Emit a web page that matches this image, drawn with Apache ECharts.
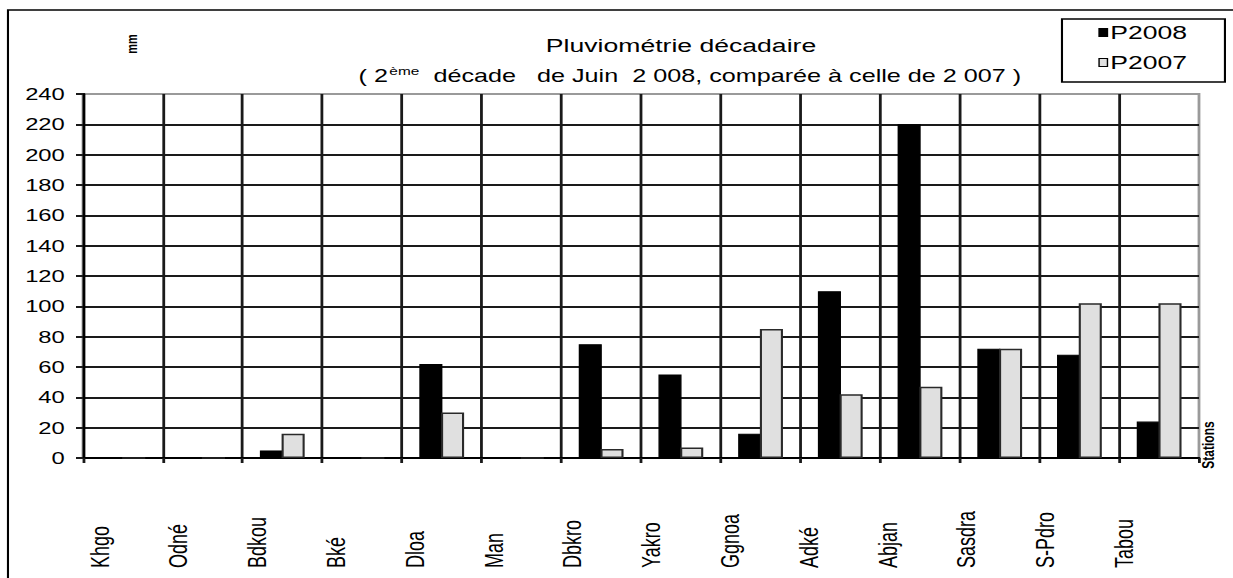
<!DOCTYPE html>
<html>
<head>
<meta charset="utf-8">
<script src="https://cdn.jsdelivr.net/npm/echarts@6/dist/echarts.min.js"></script>
<style>
  html, body { margin: 0; padding: 0; background: #fff; overflow: hidden; }
  #wrap { width: 1233px; height: 578px; overflow: hidden; position: relative; }
  #chart { width: 881px; height: 578px; transform: scaleX(1.39955); transform-origin: 0 0; }
</style>
</head>
<body>
<div id="wrap"><div id="chart"></div></div>
<script>
// ---- data ----
const categories = ['Khgo', 'Odné', 'Bdkou', 'Bké', 'Dloa', 'Man', 'Dbkro', 'Yakro', 'Ggnoa', 'Adké', 'Abjan', 'Sasdra', 'S-Pdro', 'Tabou'];
const p2008 = [0, 0, 5, 0, 62, 0, 75, 55, 16, 110, 220, 72, 68, 24];
const p2007 = [0, 0, 16, 0, 30, 0, 6, 7, 85, 42, 47, 72, 102, 102];
const seriesNames = ['P2008', 'P2007'];
const yMin = 0, yMax = 240, yStep = 20;
const titleText = 'Pluviométrie décadaire';
const yUnit = 'mm';
const xUnit = 'Stations';

const FONT = '"Liberation Sans", Arial, sans-serif';
const chart = echarts.init(document.getElementById('chart'), null, { renderer: 'svg' });

const gridLine = '#1a1a1a';
const option = {
  backgroundColor: '#fff',
  animation: false,
  textStyle: { fontFamily: FONT, color: '#000' },
  grid: [
    { left: 59.3, top: 94, width: 797.4, height: 364, show: true, borderColor: '#9a9a9a', borderWidth: 2, backgroundColor: 'transparent' },
    { left: 43.3, top: 94, width: 788.2, height: 364, show: false }
  ],
  legend: {
    data: seriesNames,
    orient: 'vertical',
    left: 758.8,
    top: 19,
    padding: [4, 27, 10, 26],
    itemGap: 11,
    itemWidth: 6,
    itemHeight: 8,
    icon: 'rect',
    borderColor: '#000',
    borderWidth: 1.5,
    textStyle: { fontFamily: FONT, fontSize: 19, color: '#000', padding: [0, 0, 0, -3] },
    itemStyle: { borderColor: '#000', borderWidth: 1 }
  },
  xAxis: [
    {
      type: 'category',
      gridIndex: 0,
      data: categories,
      axisLine: { show: true, lineStyle: { color: '#000', width: 2 } },
      axisTick: { show: true, length: 5, lineStyle: { color: gridLine, width: 2 } },
      axisLabel: { show: false },
      splitLine: { show: true, showMinLine: false, showMaxLine: false, lineStyle: { color: gridLine, width: 2 } }
    },
    {
      type: 'category',
      gridIndex: 1,
      data: categories,
      axisLine: { show: false },
      axisTick: { show: false },
      splitLine: { show: false },
      axisLabel: {
        show: true, interval: 0, rotate: 90, margin: 110,
        align: 'left', verticalAlign: 'middle',
        fontFamily: FONT, fontSize: 18, color: '#000'
      }
    }
  ],
  yAxis: [
    {
      type: 'value',
      gridIndex: 0,
      min: yMin, max: yMax, interval: yStep,
      axisLine: { show: true, lineStyle: { color: '#000', width: 2 } },
      axisTick: { show: true, length: 5, lineStyle: { color: gridLine, width: 2 } },
      axisLabel: { margin: 13, fontFamily: FONT, fontSize: 17, color: '#000' },
      splitLine: { show: true, showMinLine: false, showMaxLine: false, lineStyle: { color: gridLine, width: 2 } }
    },
    { type: 'value', gridIndex: 1, min: yMin, max: yMax, show: false }
  ],
  series: [
    {
      name: seriesNames[0], type: 'bar', xAxisIndex: 0, yAxisIndex: 0,
      data: p2008, barWidth: 16.5, barGap: '-6%',
      itemStyle: { color: '#000', borderColor: '#000', borderWidth: 1 }
    },
    {
      name: seriesNames[1], type: 'bar', xAxisIndex: 0, yAxisIndex: 0,
      data: p2007, barWidth: 16.5, barGap: '-6%',
      itemStyle: { color: '#e0e0e0', borderColor: '#2a2a2a', borderWidth: 1.5 }
    }
  ],
  graphic: [
    { type: 'rect', silent: true, shape: { x: 5.7, y: 10, width: 1000, height: 700 }, style: { fill: 'none', stroke: '#000', lineWidth: 1.5 }, z: 100 },
    { type: 'text', x: 486.6, y: 36, style: { text: titleText, font: '19px ' + FONT, fill: '#000', textAlign: 'center', textVerticalAlign: 'top' } },
    { type: 'text', x: 493, y: 66, style: {
        text: '( 2{sup|ème}  décade   de Juin  2 008, comparée à celle de 2 007 )',
        font: '18px ' + FONT, fill: '#000', textAlign: 'center', textVerticalAlign: 'top',
        rich: { sup: { fontSize: 11, fontFamily: FONT, verticalAlign: 'top', padding: [0, 0, 8, 1] } }
    } },
    { type: 'text', x: 94.5, y: 44, rotation: Math.PI / 2, style: { text: yUnit, font: 'bold 11px ' + FONT, fill: '#000', textAlign: 'center', textVerticalAlign: 'middle' } },
    { type: 'text', x: 863.5, y: 445, rotation: Math.PI / 2, style: { text: xUnit, font: 'bold 12px ' + FONT, fill: '#000', textAlign: 'center', textVerticalAlign: 'middle' } }
  ]
};
chart.setOption(option);
</script>
</body>
</html>
